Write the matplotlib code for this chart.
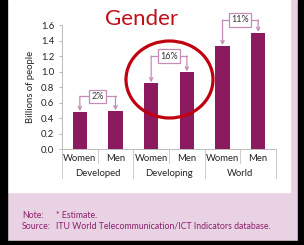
import matplotlib
matplotlib.use("Agg")
import matplotlib.pyplot as plt
from matplotlib.patches import Rectangle, Ellipse
import matplotlib.transforms as mtransforms

plt.rcParams['font.family'] = ['Lato', 'DejaVu Sans']

# data (billions of people)
categories = ["Women", "Men", "Women", "Men", "Women", "Men"]
groups = ["Developed", "Developing", "World"]
values = [0.48, 0.49, 0.85, 0.99, 1.33, 1.50]
gap_labels = ["2%", "16%", "11%"]
bracket_levels = [0.68, 1.20, 1.665]
yticks = [0.0, 0.2, 0.4, 0.6, 0.8, 1.0, 1.2, 1.4, 1.6]

bar_col = "#8c1a5f"
brk_col = "#c48db8"
pink = "#e9d2e3"
txt_col = "#8a1f6b"

fig = plt.figure(figsize=(3.04, 2.45), dpi=100)
fig.patch.set_facecolor(pink)

# frame: white panel and black borders
W, H = 304., 245.
def fr(x0, y0, x1, y1, col):
    fig.patches.append(Rectangle((x0 / W, 1 - y1 / H), (x1 - x0) / W, (y1 - y0) / H,
                                 transform=fig.transFigure, color=col, zorder=-5))
fr(8, 0, 290, 192, "white")
fr(0, 0, 7, 245, "black")
fr(298, 0, 304, 245, "black")
fr(0, 241, 304, 245, "black")

ax = fig.add_axes([62 / W, 96 / H, 214 / W, 124 / H])
ax.set_zorder(2)
ax.set_facecolor("none")
x = list(range(len(values)))
ax.bar(x, values, width=0.41, color=bar_col, zorder=3)
ax.set_xlim(-0.5, 5.5)
ax.set_ylim(0, 1.6)
ax.set_yticks(yticks)
ax.set_yticklabels(["%.1f" % v for v in yticks], fontsize=6.8, color="#222222")
ax.tick_params(axis='y', length=2.5, color="#bbbbbb", pad=3)
ax.set_xticks([])
for s in ["top", "right"]:
    ax.spines[s].set_visible(False)
for s in ["left", "bottom"]:
    ax.spines[s].set_color("#bbbbbb")
    ax.spines[s].set_linewidth(0.7)
ax.set_ylabel("Billions of people", fontsize=6.8, color="#222222", labelpad=4)

# category labels and separators below the axis
trans = mtransforms.blended_transform_factory(ax.transData, ax.transAxes)
for i, c in enumerate(categories):
    ax.text(i, -0.075, c, transform=trans, ha="center", va="center", fontsize=6.8, color="#222222")
for g, name in enumerate(groups):
    ax.text(2 * g + 0.5, -0.2, name, transform=trans, ha="center", va="center", fontsize=6.8, color="#222222")
for k in range(7):
    xb = k - 0.5
    y_end = -0.235 if k % 2 == 0 else -0.115
    ax.plot([xb, xb], [0, y_end], transform=trans, color="#cccccc", lw=0.7, clip_on=False)

# brackets with percentage gaps
for g in range(3):
    x0, x1 = 2 * g, 2 * g + 1
    yl = bracket_levels[g]
    ax.plot([x0, x1], [yl, yl], color=brk_col, lw=0.9, clip_on=False, zorder=4)
    for xi in (x0, x1):
        ax.annotate("", xy=(xi, values[xi] + 0.01), xytext=(xi, yl),
                    arrowprops=dict(arrowstyle="->", color=brk_col, lw=0.9,
                                    shrinkA=0, shrinkB=0, mutation_scale=6),
                    annotation_clip=False, zorder=4)
    ax.text(2 * g + 0.5, yl, gap_labels[g], ha="center", va="center", fontsize=6.5,
            color="#333333", zorder=5, clip_on=False,
            bbox=dict(boxstyle="square,pad=0.25", fc="white", ec=brk_col, lw=0.9))

fig.text(141.5 / W, 1 - 19 / H, "Gender", ha="center", va="center", fontsize=16, color="#c0101c")

fig.patches.append(Ellipse((169.5 / W, 1 - 79.5 / H), 87 / W, 77 / H, transform=fig.transFigure,
                           fill=False, ec="#c00010", lw=2.3, zorder=6))

fig.text(22 / W, 1 - 215 / H, "Note:", fontsize=6.3, color=txt_col, va="center")
fig.text(56 / W, 1 - 215 / H, "* Estimate.", fontsize=6.3, color=txt_col, va="center")
fig.text(22 / W, 1 - 226 / H, "Source:", fontsize=6.3, color=txt_col, va="center")
fig.text(56 / W, 1 - 226 / H, "ITU World Telecommunication/ICT Indicators database.", fontsize=6.3,
         color=txt_col, va="center")

fig.savefig("out.png", dpi=100, facecolor=fig.get_facecolor())
